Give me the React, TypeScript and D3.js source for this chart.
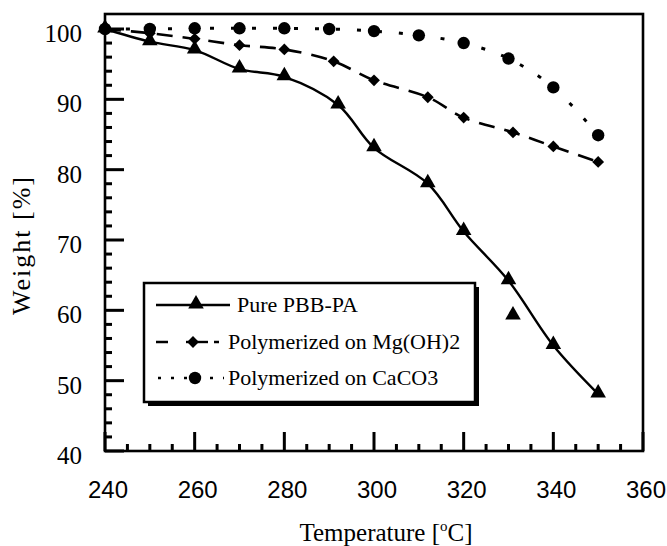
import React, { useEffect, useRef } from 'react';
import * as d3 from 'd3';

// temperature in °C, weight in %
const pureTemps = [240, 250, 260, 270, 280, 292, 300, 312, 320, 330, 331, 340, 350];
const pureWeights = [100, 98.2, 97, 94.3, 93.2, 89.2, 83.1, 78, 71.2, 64.2, 59.2, 55, 48.1];
const pureOffCurve = [331]; // marker drawn, not used by the fitted line

const mgTemps = [240, 250, 260, 270, 280, 291, 300, 312, 320, 331, 340, 350];
const mgWeights = [100, 99.4, 98.6, 97.7, 97.1, 95.4, 92.7, 90.3, 87.4, 85.3, 83.3, 81.1];

const caTemps = [240, 250, 260, 270, 280, 290, 300, 310, 320, 330, 340, 350];
const caWeights = [100, 100, 100.1, 100.1, 100.1, 100, 99.7, 99.1, 98, 95.8, 91.7, 84.9];

const xTicks = [240, 260, 280, 300, 320, 340, 360];
const yTicks = [40, 50, 60, 70, 80, 90, 100];

const legendLabels = ['Pure PBB-PA', 'Polymerized on Mg(OH)2', 'Polymerized on CaCO3'];

const W = 667;
const H = 546;
const SERIF = '"Liberation Serif", "Times New Roman", serif';
const SANS = '"Liberation Sans", Arial, sans-serif';

const left = 105, right = 643, top = 14, bottom = 451;
const x = d3.scaleLinear().domain([240, 360]).range([left, right]);
const y = d3.scaleLinear().domain([40, 100]).range([bottom, 29]);

const yMinor = d3.range(40, 100.1, 2).filter((v) => v % 10 !== 0);
const xMinor = d3.range(240, 360.1, 5).filter((v) => v % 20 !== 0);

function App() {
  const gRef = useRef<SVGGElement>(null);

  useEffect(() => {
    const g = d3.select(gRef.current);
    g.selectAll('*').remove();

    // tick labels
    g.append('g').selectAll('text').data(yTicks).join('text')
      .attr('x', left - 23).attr('y', (d) => y(d) + 13)
      .attr('text-anchor', 'end')
      .attr('font-family', SERIF).attr('font-size', 25)
      .text((d) => d3.format('d')(d));
    g.append('g').selectAll('text').data(xTicks).join('text')
      .attr('x', (d) => x(d) + 3).attr('y', 498)
      .attr('text-anchor', 'middle')
      .attr('font-family', SANS).attr('font-size', 24)
      .text((d) => d3.format('d')(d));

    // axis titles
    const xt = g.append('text')
      .attr('x', 386).attr('y', 541)
      .attr('text-anchor', 'middle')
      .attr('font-family', SERIF).attr('font-size', 25);
    xt.append('tspan').text('Temperature [');
    xt.append('tspan').attr('font-size', 15).attr('dy', -10).text('o');
    xt.append('tspan').attr('dy', 10).text('C]');

    g.append('text')
      .attr('transform', `translate(30,245) rotate(-90)`)
      .attr('text-anchor', 'middle')
      .attr('font-family', SERIF).attr('font-size', 26)
      .attr('letter-spacing', 2)
      .text('Weight [%]');

    const pts = (ts: number[], ws: number[]) => ts.map((t, i) => [t, ws[i]] as [number, number]);
    const pure = pts(pureTemps, pureWeights);
    const mg = pts(mgTemps, mgWeights);
    const ca = pts(caTemps, caWeights);

    const line = d3.line<[number, number]>()
      .x((d) => x(d[0])).y((d) => y(d[1]))
      .curve(d3.curveCatmullRom.alpha(0.5));

    g.append('path').datum(pure.filter((d) => !pureOffCurve.includes(d[0])))
      .attr('d', line).attr('fill', 'none').attr('stroke', '#000').attr('stroke-width', 2.4);
    g.append('path').datum(mg)
      .attr('d', line).attr('fill', 'none').attr('stroke', '#000').attr('stroke-width', 2.6)
      .attr('stroke-dasharray', '16 10');
    g.append('path').datum(ca)
      .attr('d', line).attr('fill', 'none').attr('stroke', '#000').attr('stroke-width', 3)
      .attr('stroke-dasharray', '4 17');

    const tri = d3.symbol().type(d3.symbolTriangle).size(105)();
    const dia = d3.symbol().type(d3.symbolSquare).size(70)();

    g.append('g').selectAll('circle').data(ca).join('circle')
      .attr('cx', (d) => x(d[0])).attr('cy', (d) => y(d[1])).attr('r', 6.2).attr('fill', '#000');
    g.append('g').selectAll('path').data(mg).join('path')
      .attr('d', dia)
      .attr('transform', (d) => `translate(${x(d[0])},${y(d[1])}) rotate(45)`)
      .attr('fill', '#000');
    g.append('g').selectAll('path').data(pure).join('path')
      .attr('d', tri)
      .attr('transform', (d) => `translate(${x(d[0])},${y(d[1]) - 1})`)
      .attr('fill', '#000');

    // legend
    const lx = 144, ly = 283, lw = 331, lh = 119;
    g.append('rect').attr('x', lx + 4).attr('y', ly + 4).attr('width', lw).attr('height', lh).attr('fill', '#000');
    g.append('rect').attr('x', lx).attr('y', ly).attr('width', lw).attr('height', lh)
      .attr('fill', '#fff').attr('stroke', '#000').attr('stroke-width', 2.5);

    const rows = [305, 342, 378];
    const styles = [
      { dash: null, start: 156, end: 230, tx: 237, sym: 'tri' },
      { dash: '12 46 5 40', start: 156, end: 223, tx: 228, sym: 'dia' },
      { dash: '3 10', start: 158, end: 224, tx: 228, sym: 'dot' },
    ];
    styles.forEach((s, i) => {
      const ry = rows[i];
      const l = g.append('line').attr('x1', s.start).attr('x2', s.end).attr('y1', ry).attr('y2', ry)
        .attr('stroke', '#000').attr('stroke-width', 2.4);
      if (s.dash) l.attr('stroke-dasharray', s.dash);
      if (s.sym === 'tri') {
        g.append('path').attr('d', tri).attr('transform', `translate(196,${ry - 1})`).attr('fill', '#000');
      } else if (s.sym === 'dia') {
        g.append('line').attr('x1', 186).attr('x2', 208).attr('y1', ry).attr('y2', ry)
          .attr('stroke', '#000').attr('stroke-width', 2.4);
        g.append('path').attr('d', dia).attr('transform', `translate(193,${ry}) rotate(45)`).attr('fill', '#000');
      } else {
        g.append('circle').attr('cx', 195).attr('cy', ry).attr('r', 6.2).attr('fill', '#000');
      }
      g.append('text').attr('x', s.tx).attr('y', ry + 7)
        .attr('font-family', SERIF).attr('font-size', 22)
        .text(legendLabels[i]);
    });
  }, []);

  return (
    <svg
      width={W}
      height={H}
      style={{ position: 'absolute', left: 0, top: 0, background: '#fff' }}
    >
      {/* frame */}
      <rect x={left} y={top} width={right - left} height={bottom - top} fill="none" stroke="#000" strokeWidth={2.6} />
      {/* inward ticks */}
      <g fill="#000">
        {yMinor.map((v) => (
          <rect key={`ym${v}`} x={left} y={y(v) - 1.5} width={7} height={3} />
        ))}
        {yTicks.map((v) => (
          <rect key={`y${v}`} x={left} y={y(v) - 1.5} width={19} height={3} />
        ))}
        {xMinor.map((v) => (
          <rect key={`xm${v}`} x={x(v) - 1.5} y={bottom - 7} width={3} height={7} />
        ))}
        {xTicks.map((v) => (
          <rect key={`x${v}`} x={x(v) - 1.5} y={bottom - 19} width={3} height={19} />
        ))}
      </g>
      <g ref={gRef} />
    </svg>
  );
}

export default App;
